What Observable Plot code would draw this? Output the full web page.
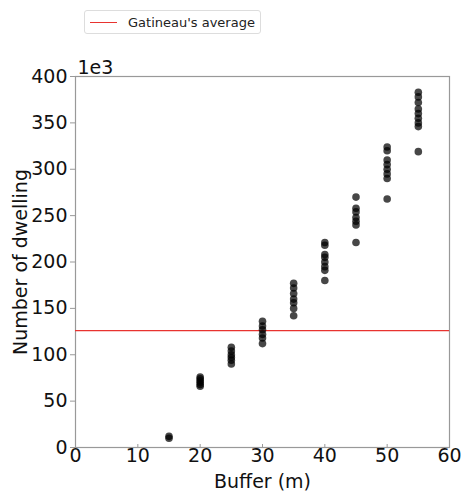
<!DOCTYPE html>
<html>
<head>
<meta charset="utf-8">
<script src="https://cdn.jsdelivr.net/npm/d3@7"></script>
<script src="https://cdn.jsdelivr.net/npm/@observablehq/plot@0.6"></script>
<style>
  body { margin: 0; background: #fff; font-family: "DejaVu Sans", sans-serif; }
  #wrap { position: relative; width: 463px; height: 491px; }
  #legend { position: absolute; left: 84px; top: 10px; width: 177px; height: 24px;
    border: 1px solid #ddd; border-radius: 3px; background: #fff; box-sizing: border-box;
    font-size: 13px; color: #222; display: flex; align-items: center; }
  #legend .sw { width: 27px; height: 0; border-top: 1.5px solid #e8332f; margin-left: 5px; margin-right: 11px; }
</style>
</head>
<body>
<div id="wrap">
  <div id="chart"></div>
  <div id="legend"><span class="sw"></span><span>Gatineau's average</span></div>
</div>
<script>
// Buffer distances (m)
const buffers = [15, 20, 25, 30, 35, 40, 45, 50, 55];
// Number of dwellings (thousands) per buffer
const dwellings = [
  [12, 10],
  [76, 74, 72, 70, 68, 66],
  [108, 104, 100, 97, 94, 90],
  [136, 131, 127, 122, 118, 112],
  [177, 172, 166, 160, 156, 150, 142],
  [221, 218, 208, 205, 200, 195, 191, 180],
  [270, 258, 254, 248, 244, 240, 221],
  [324, 320, 310, 305, 300, 295, 290, 268],
  [383, 378, 372, 365, 360, 355, 350, 346, 319]
];
const gatineauAverage = 126;
const xTicks = [0, 10, 20, 30, 40, 50, 60];
const yTicks = [0, 50, 100, 150, 200, 250, 300, 350, 400];

const points = buffers.flatMap((b, i) => dwellings[i].map(v => ({buffer: b, dwelling: v})));

const chart = Plot.plot({
  width: 463,
  height: 491,
  marginTop: 76,
  marginBottom: 44,
  marginLeft: 75,
  marginRight: 14,
  style: {fontFamily: "DejaVu Sans, sans-serif", fontSize: "19px", color: "#111", background: "transparent"},
  x: {domain: [0, 60]},
  y: {domain: [0, 400]},
  marks: [
    Plot.frame({stroke: "#999", strokeWidth: 1.2}),
    Plot.axisY({ticks: yTicks, tickSize: 5, tickPadding: 3, label: null, stroke: "#999", fill: "#111"}),
    Plot.axisX({ticks: xTicks, tickSize: 0, tickPadding: 1, label: null, fill: "#111"}),
    Plot.axisX({ticks: xTicks, tickSize: 3, dy: -3, tickFormat: () => "", label: null, stroke: "#999"}),
    Plot.ruleY([gatineauAverage], {stroke: "#e8332f", strokeWidth: 1.3}),
    Plot.dot(points, {x: "buffer", y: "dwelling", r: 3.8, fill: "#000", fillOpacity: 0.72, stroke: "none"}),
    Plot.text(["Buffer (m)"], {frameAnchor: "bottom", lineAnchor: "middle", dy: 34, fontSize: 19, fill: "#111"}),
    Plot.text(["Number of dwelling"], {frameAnchor: "left", textAnchor: "middle", lineAnchor: "middle", rotate: -90, dx: -55, fontSize: 19, fill: "#111"}),
    Plot.text(["1e3"], {frameAnchor: "top-left", textAnchor: "start", lineAnchor: "middle", dx: 2, dy: -9, fontSize: 19, fill: "#111"})
  ]
});
document.getElementById("chart").appendChild(chart);
</script>
</body>
</html>
